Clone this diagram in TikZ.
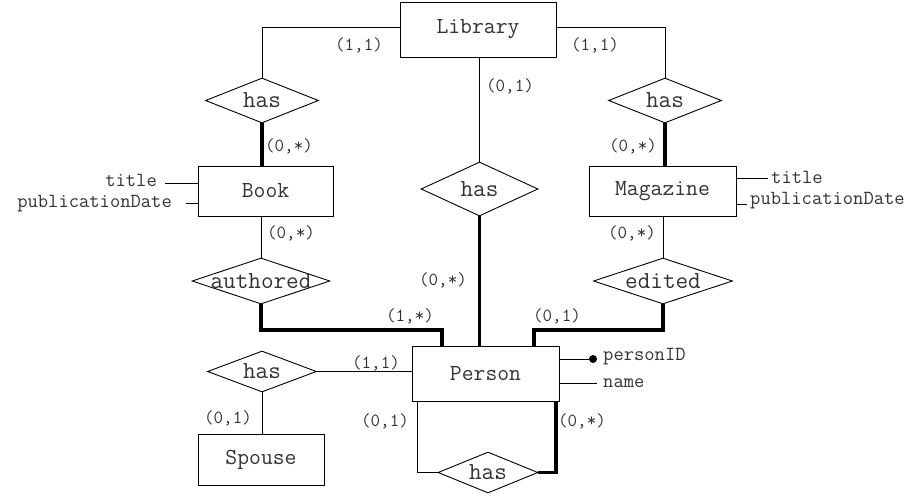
\documentclass[tikz,border=0pt]{standalone}
\usepackage{fontspec}
\usetikzlibrary{shapes.geometric}
\newcommand\zb[1]{\makebox[0pt]{#1}}
\begin{document}
\begin{tikzpicture}[x=1pt,y=-1pt,
  ent/.style={draw, line width=0.9pt, rectangle, inner sep=0pt, font=\ttfamily\fontsize{23}{25}\selectfont, text=black!80},
  rel/.style={draw, line width=0.9pt, diamond, inner sep=0pt, aspect=1, font=\ttfamily\fontsize{24.5}{26}\selectfont, text=black!80},
  card/.style={inner sep=0pt, font=\ttfamily\fontsize{18.5}{20}\selectfont, text=black!80},
  attr/.style={inner sep=0pt, font=\ttfamily\fontsize{20}{22}\selectfont, text=black!80},
  conn/.style={line width=0.9pt},
  conntk/.style={line width=3.8pt},
]
\useasboundingbox[fill=white] (0,0) rectangle (915,500);

% entities
\node[ent, minimum width=156pt, minimum height=55pt] (lib) at (478,29.5) {Library};
\node[ent, minimum width=135pt, minimum height=50pt] (book) at (265.5,191) {Book};
\node[ent, minimum width=147pt, minimum height=50pt] (mag) at (662.5,191) {Magazine};
\node[ent, minimum width=147pt, minimum height=55pt] (person) at (485.5,373.5) {Person};
\node[ent, minimum width=126pt, minimum height=51pt] (spouse) at (261,459.5) {Spouse};

% relationships
\node[rel, minimum width=113pt, minimum height=45pt] (has1) at (262,100.5) {\zb{has}};
\node[rel, minimum width=113pt, minimum height=45pt] (has2) at (665,100.5) {\zb{has}};
\node[rel, minimum width=117pt, minimum height=54pt] (hasm) at (479.5,189) {\zb{has}};
\node[rel, minimum width=138pt, minimum height=46pt] (auth) at (261,281) {\zb{authored}};
\node[rel, minimum width=139pt, minimum height=46pt] (edit) at (663,281) {\zb{edited}};
\node[rel, minimum width=109pt, minimum height=41pt] (sphas) at (262,371.5) {\zb{has}};
\node[rel, minimum width=100pt, minimum height=41pt] (bhas) at (488,472.5) {\zb{has}};

% junction coordinates
\coordinate (jL) at (442,330);
\coordinate (jR) at (534,330);
\coordinate (bL) at (417,473);
\coordinate (bR) at (556,473);

% connectors
\draw[conn] ([yshift=2.5pt]lib.west) -| (has1.north);
\draw[conn] ([yshift=2.5pt]lib.east) -| (has2.north);
\draw[conntk] (has1.south) -- (has1.south |- book.north);
\draw[conntk] (has2.south) -- (has2.south |- mag.north);
\draw[conn] (hasm.north |- lib.south) -- (hasm.north);
\draw[conntk] (hasm.south) -- (hasm.south |- person.north);
\draw[conn] (auth.north |- book.south) -- (auth.north);
\draw[conn] (edit.north |- mag.south) -- (edit.north);
\draw[conntk, line join=miter] (auth.south) |- (jL) -- (jL |- person.north);
\draw[conntk, line join=miter] (edit.south) |- (jR) -- (jR |- person.north);
\draw[conn] (sphas.east) -- (sphas.east -| person.west);
\draw[conn] (sphas.south) -- (sphas.south |- spouse.north);
\draw[conn] (bL |- person.south) |- (bhas.west);
\draw[conntk, line join=miter] (bhas.east) -| (bR |- person.south);

% cardinalities
\node[card] (c1) at (359,45) {(1,1)};
\node[card] (c2) at (510,86) {(0,1)};
\node[card] (c3) at (595,45) {(1,1)};
\node[card] (c4) at (289,146) {(0,*)};
\node[card] (c5) at (633,146) {(0,*)};
\node[card] (c6) at (291,233) {(0,*)};
\node[card] (c7) at (632,233) {(0,*)};
\node[card] (c8) at (443,280) {(0,*)};
\node[card] (c9) at (410,316) {(1,*)};
\node[card] (c10) at (557,316) {(0,1)};
\node[card] (c11) at (376,363) {(1,1)};
\node[card] (c12) at (228,418) {(0,1)};
\node[card] (c13) at (385,421) {(0,1)};
\node[card] (c14) at (582,421) {(0,*)};

% Book attributes
\node[attr, anchor=east] (bt) at (157,180.5) {title};
\node[attr, anchor=east] (bp) at (172,204) {publicationDate};
\coordinate (bt0) at (165,183);
\coordinate (bp0) at (186,203);
\draw[conn] (bt0) -- (bt0 -| book.west);
\draw[conn] (bp0) -- (bp0 -| book.west);

% Magazine attributes
\node[attr, anchor=west] (mt) at (771,177.5) {title};
\node[attr, anchor=west] (mp) at (750,200.5) {publicationDate};
\coordinate (mt0) at (768,178);
\coordinate (mp0) at (747,204);
\draw[conn] (mt0 -| mag.east) -- (mt0);
\draw[conn] (mp0 -| mag.east) -- (mp0);

% Person attributes
\node[circle, fill=black, inner sep=0pt, minimum size=8pt] (dot) at (593,359) {};
\node[attr, anchor=west] (pid) at (603,357) {personID};
\node[attr, anchor=west] (pn) at (603,383) {name};
\coordinate (pn0) at (597,383);
\draw[conn] (dot -| person.east) -- (dot);
\draw[conn] (pn0 -| person.east) -- (pn0);
\end{tikzpicture}
\end{document}
